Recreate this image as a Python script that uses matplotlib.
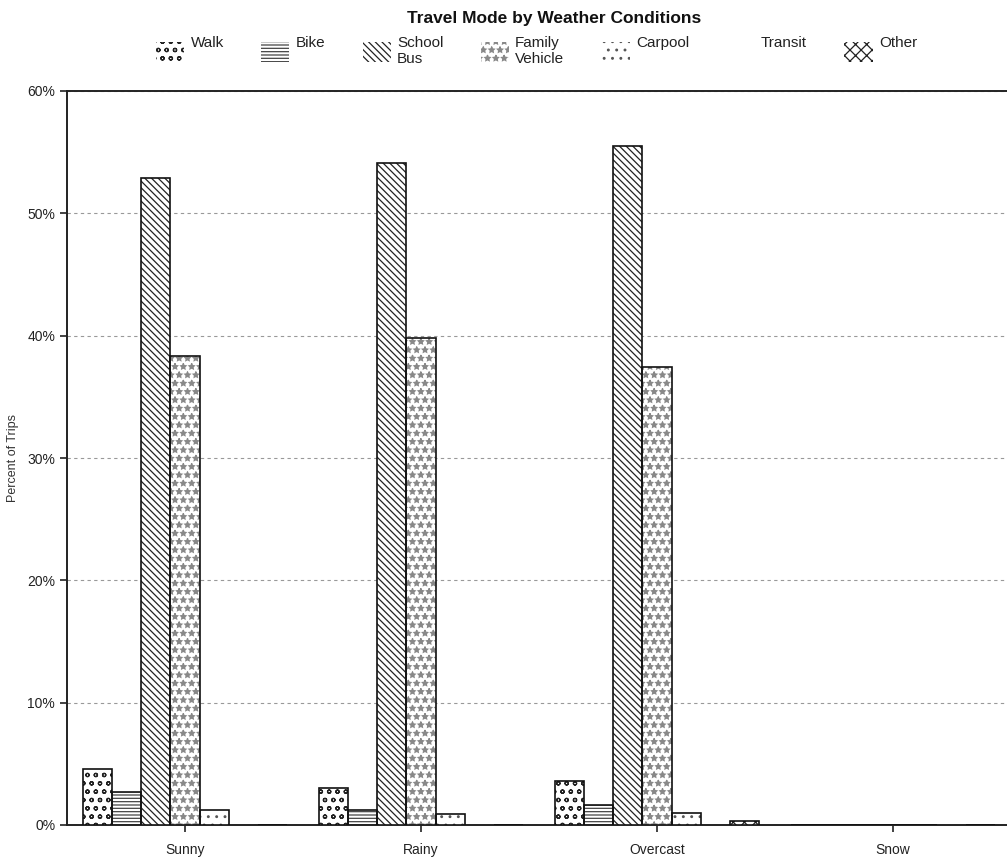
import numpy as np
import matplotlib
matplotlib.use('Agg')
import matplotlib.pyplot as plt
from matplotlib.patches import Patch
from matplotlib.ticker import PercentFormatter

plt.rcParams['font.family'] = ['Liberation Sans', 'DejaVu Sans']
plt.rcParams['hatch.linewidth'] = 0.9

# data (percent of trips)
conditions = ['Sunny', 'Rainy', 'Overcast', 'Snow']
modes = ['Walk', 'Bike', 'School\nBus', 'Family\nVehicle', 'Carpool', 'Transit', 'Other']
walk = [4.6, 3.0, 3.6, 0.0]
bike = [2.7, 1.2, 1.6, 0.0]
school_bus = [52.9, 54.1, 55.5, 0.0]
family_vehicle = [38.3, 39.8, 37.4, 0.0]
carpool = [1.2, 0.9, 1.0, 0.0]
transit = [0.0, 0.0, 0.0, 0.0]
other = [0.0, 0.0, 0.3, 0.0]
series = [walk, bike, school_bus, family_vehicle, carpool, transit, other]

hatches = ['oo', '-----', '\\\\\\\\\\', '**', '..', '', 'xxx']
hatch_cols = ['#222222', '#444444', '#222222', '#888888', '#555555', 'white', '#222222']

fig = plt.figure(figsize=(10.07, 8.61), dpi=100)
ax = fig.add_axes([67/1007, 1 - 825/861, (1011 - 67)/1007, (825 - 91)/861])

x = np.arange(len(conditions))
w = 0.124
for i, (name, vals) in enumerate(zip(modes, series)):
    if name == 'Transit':
        continue  # all zero, drawn blank
    pos = x + (i - 3) * w
    # hatch layer, then outline on top
    ax.bar(pos, vals, w, facecolor='white', edgecolor=hatch_cols[i],
           hatch=hatches[i], linewidth=0, zorder=3)
    ax.bar(pos, vals, w, facecolor='none', edgecolor='#111111', linewidth=1.2, zorder=4)

ax.set_xlim(-0.5, 3.5)
ax.set_ylim(0, 60)
ax.set_xticks(x)
ax.set_xticklabels(conditions, fontsize=10, color='#222222')
ax.set_yticks(np.arange(0, 61, 10))
ax.yaxis.set_major_formatter(PercentFormatter(decimals=0))
ax.tick_params(axis='y', labelsize=10, length=5, width=1.2, colors='#222222')
ax.tick_params(axis='x', length=5, width=1.2, colors='#222222', pad=8)
ax.set_ylabel('Percent of Trips', fontsize=9, color='#333333', labelpad=6)
for s in ax.spines.values():
    s.set_linewidth(1.4)
    s.set_color('#222222')
ax.yaxis.grid(True, linestyle=(0, (3, 3)), color='#999999', linewidth=0.8, zorder=0)

fig.text(0.55, 1 - 18/861, 'Travel Mode by Weather Conditions', ha='center', va='center',
         fontsize=12.5, fontweight='bold', color='#111111')

handles = [Patch(facecolor='white', edgecolor=c, hatch=h, linewidth=0)
           for h, c in zip(hatches, hatch_cols)]
labels = [m if '\n' in m else m + '\n ' for m in modes]
leg = fig.legend(handles, labels, loc='upper left', bbox_to_anchor=(150/1007, 1 - 30/861), ncol=7,
                 frameon=False, fontsize=11, handlelength=1.85, handleheight=1.6,
                 handletextpad=0.4, columnspacing=2.45, borderaxespad=0)
for t in leg.get_texts():
    t.set_color('#222222')

fig.savefig('out.png', dpi=100)
